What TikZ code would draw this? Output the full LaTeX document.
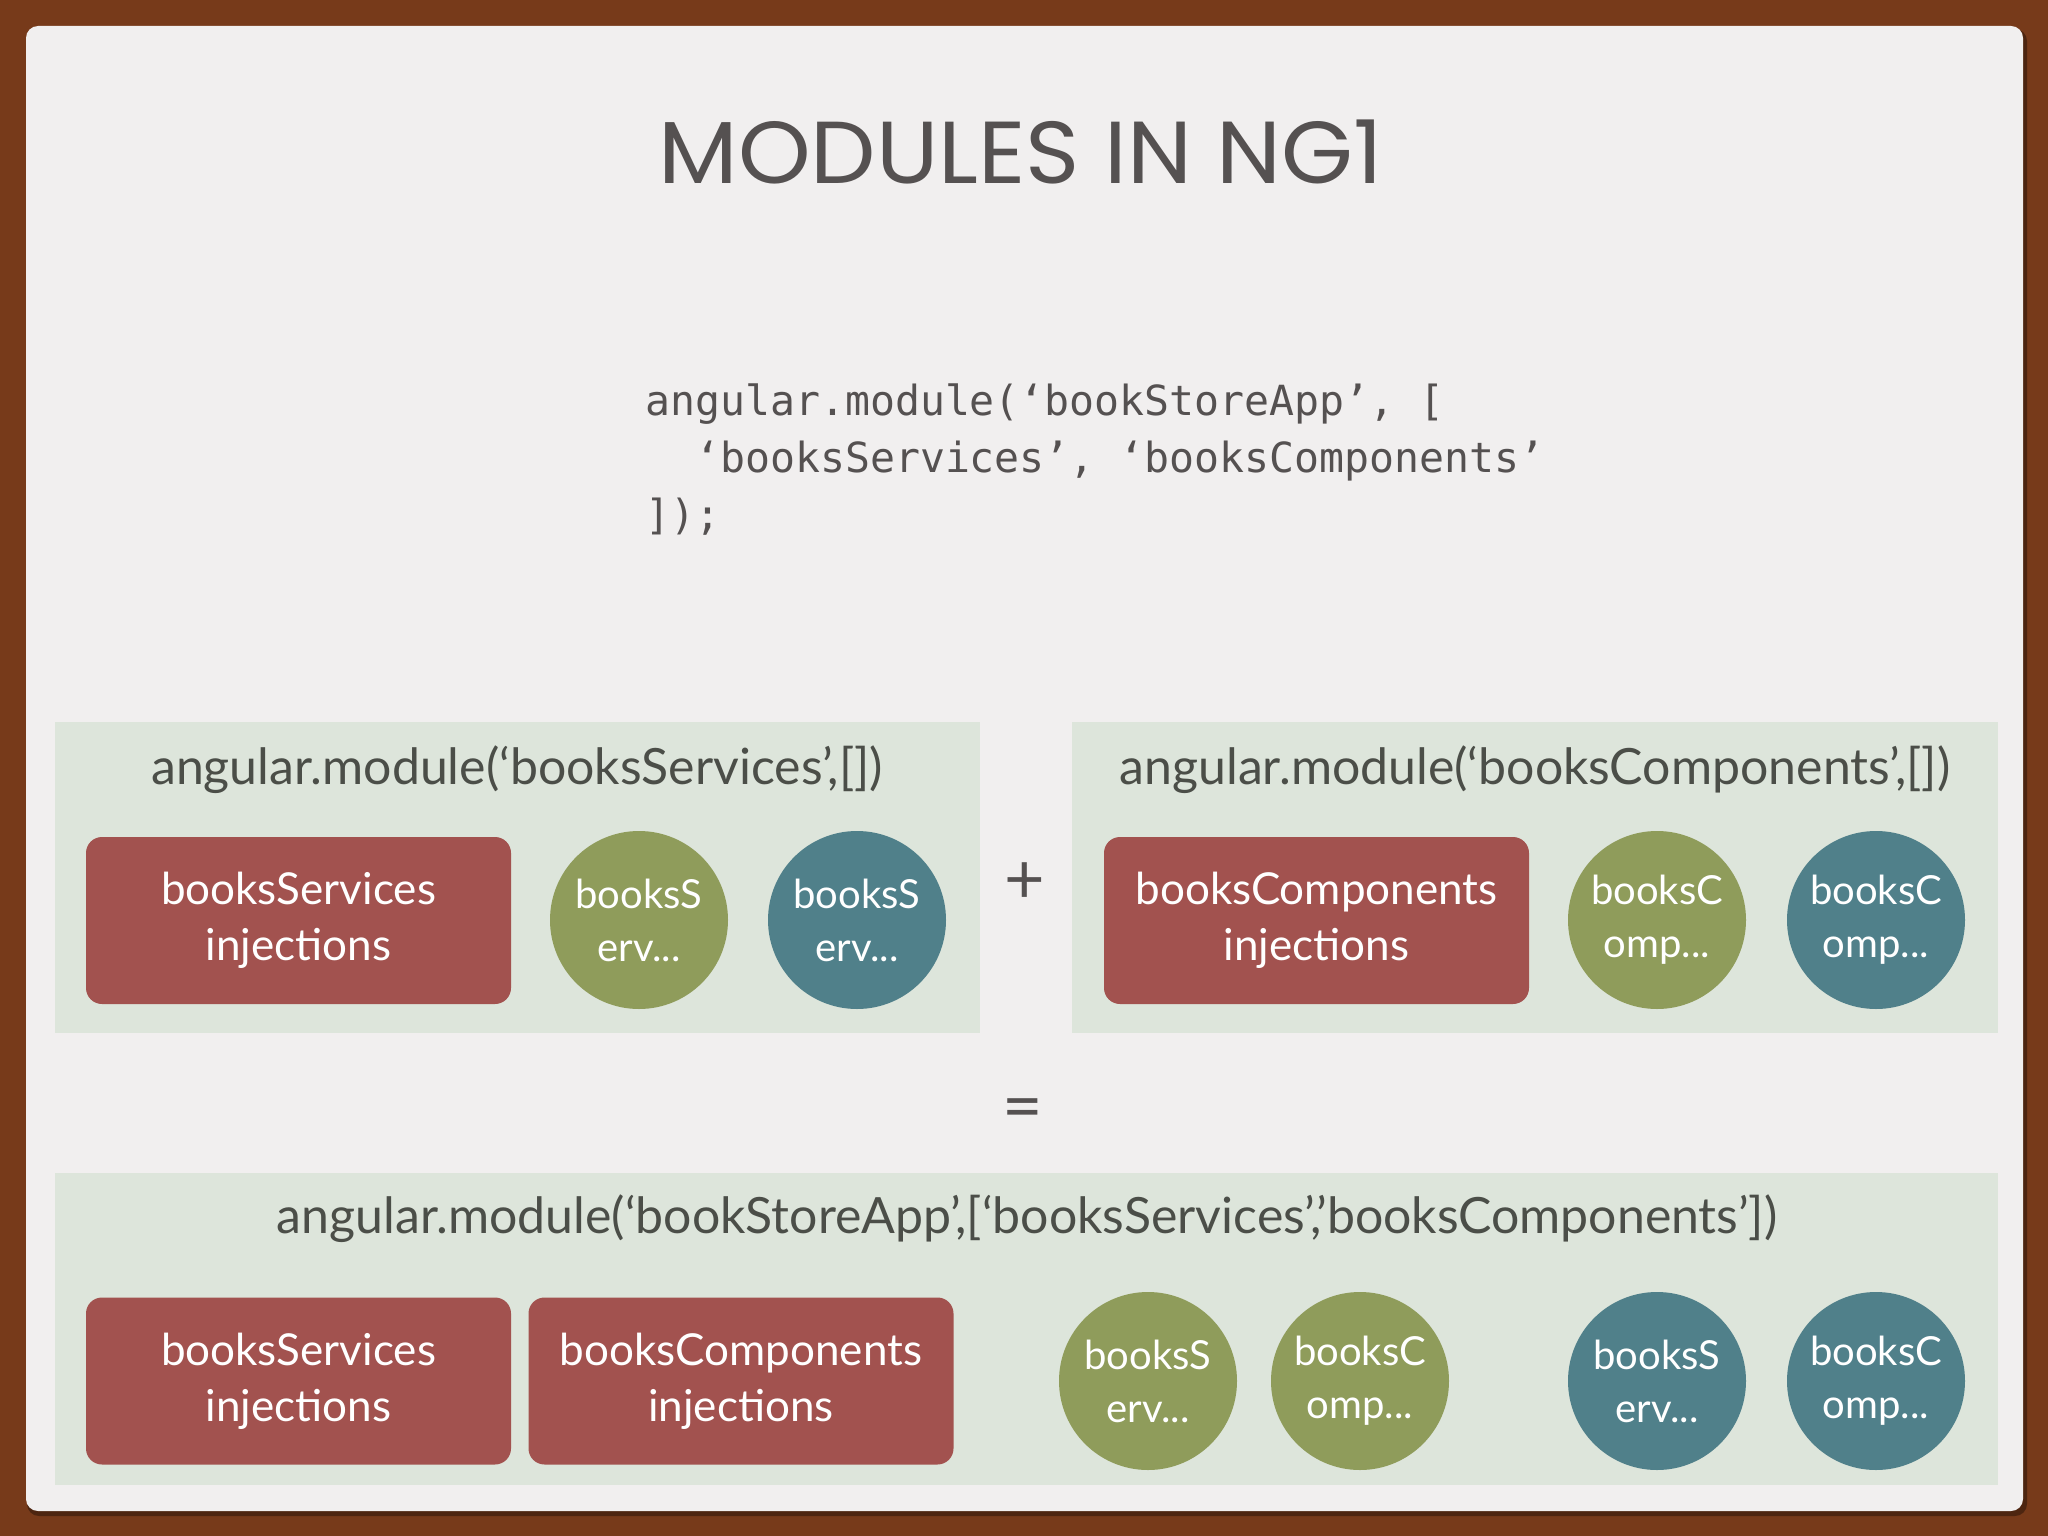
\documentclass[tikz,border=0pt]{standalone}
\usepackage{fontspec}
\setmainfont{Lato}
\newfontfamily\titlefont[FakeStretch=1.05]{Poppins}
\newfontfamily\codefont{DejaVu Sans Mono}
\definecolor{bgbrown}{HTML}{773A1A}
\definecolor{card}{HTML}{F1EFEF}
\definecolor{panel}{HTML}{DDE5DB}
\definecolor{boxred}{HTML}{A2524F}
\definecolor{olive}{HTML}{8F9C5B}
\definecolor{teal}{HTML}{50808A}
\definecolor{ink}{HTML}{4B4E48}
\definecolor{titleink}{HTML}{555151}
\tikzset{
  panelbox/.style={fill=panel, draw=none, rectangle, inner sep=0pt},
  header/.style={text=ink, font=\fontsize{50}{58}\selectfont, anchor=base, inner sep=0pt},
  injbox/.style={fill=boxred, draw=none, rectangle, rounded corners=16pt, minimum width=425pt, minimum height=167pt, text=white, align=center, font=\fontsize{44}{56}\selectfont, inner sep=0pt},
  modcirc/.style={circle, draw=none, minimum size=178pt, inner sep=0pt, text=white, align=center, font=\fontsize{40}{53}\selectfont},
  greenc/.style={modcirc, fill=olive},
  tealc/.style={modcirc, fill=teal},
  opsign/.style={text=titleink, font=\fontsize{70}{70}\selectfont, inner sep=0pt}
}
\begin{document}
\begin{tikzpicture}[x=1pt,y=-1pt]
\useasboundingbox (0,0) rectangle (2048,1536);
\fill[bgbrown] (0,0) rectangle (2048,1536);
\fill[black, opacity=0.35, rounded corners=12pt] (27,29) rectangle (2027,1516);
\fill[card, rounded corners=12pt] (26,26) rectangle (2023,1511);

% title
\node[anchor=base, text=titleink, font=\titlefont\fontsize{88}{88}\selectfont, inner sep=0pt] (title) at (1021,183) {MODULES IN NG1};

% code (base anchor = baseline of last line)
\node[anchor=base west, text=titleink, font=\codefont\fontsize{41.5}{57}\selectfont, align=left, inner sep=0pt] (code) at (645,529)
  {angular.module(‘bookStoreApp’, [\\
  \ \ ‘booksServices’, ‘booksComponents’\\
  ]);};

% panels
\node[panelbox, minimum width=925pt, minimum height=311pt] (pA) at (517.5,877.5) {};
\node[panelbox, minimum width=926pt, minimum height=311pt] (pB) at (1535,877.5) {};
\node[panelbox, minimum width=1943pt, minimum height=312pt] (pC) at (1026.5,1329) {};

\node[header] (hA) at (517,784) {angular.module(‘booksServices’,[])};
\node[header] (hB) at (1535,784) {angular.module(‘booksComponents’,[])};
\node[header] (hC) at (1027,1233) {angular.module(‘bookStoreApp’,[‘booksServices’,’booksComponents’])};

% panel A contents
\node[injbox] (injA) at (298.5,920.5) {booksServices\\injections};
\node[greenc] (gA) at (639,920) {booksS\\erv...};
\node[tealc] (tA) at (857,920) {booksS\\erv...};

% panel B contents
\node[injbox] (injB) at (1316.5,920.5) {booksComponents\\injections};
\node[greenc] (gB) at (1657,920) {booksC\\omp...};
\node[tealc] (tB) at (1876,920) {booksC\\omp...};

% operators
\node[opsign] (plus) at (1025,883) {+};
\node[opsign] (eq) at (1023,1115) {=};

% panel C contents
\node[injbox] (injC1) at (298.5,1381) {booksServices\\injections};
\node[injbox] (injC2) at (741,1381) {booksComponents\\injections};
\node[greenc] (gC1) at (1148,1381) {booksS\\erv...};
\node[greenc] (gC2) at (1360,1381) {booksC\\omp...};
\node[tealc] (tC1) at (1657,1381) {booksS\\erv...};
\node[tealc] (tC2) at (1876,1381) {booksC\\omp...};
\end{tikzpicture}
\end{document}
